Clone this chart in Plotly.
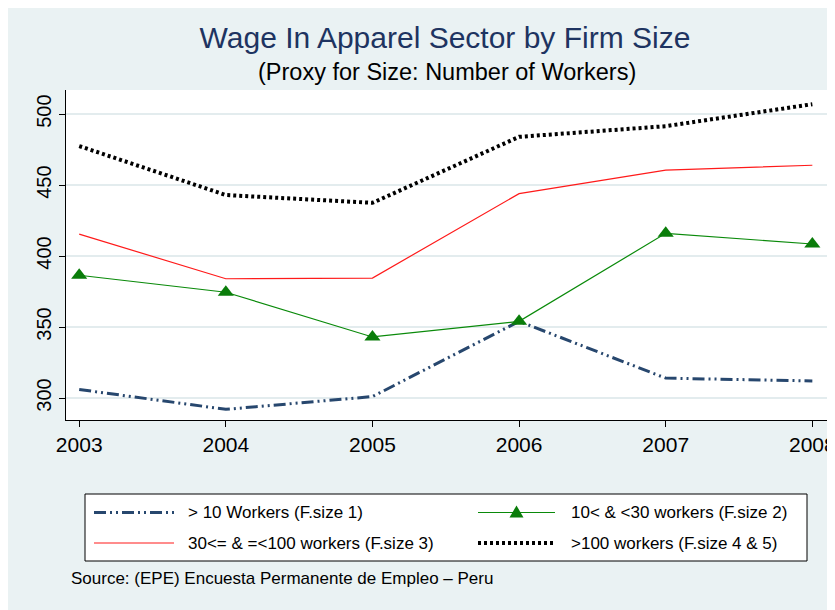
import plotly.graph_objects as go

years = [2003, 2004, 2005, 2006, 2007, 2008]
fsize1 = [306, 292, 301, 354, 314, 312]
fsize2 = [386.5, 374.5, 343, 354, 416, 408.5]
fsize3 = [415.5, 384, 384.5, 444, 460.5, 464]
fsize45 = [477.5, 443, 437.5, 484, 491.5, 507]
names = ["> 10 Workers (F.size 1)", "10< & <30 workers (F.size 2)",
         "30<= & =<100 workers (F.size 3)", ">100 workers (F.size 4 & 5)"]
y_ticks = [300, 350, 400, 450, 500]

font = "Liberation Sans, Arial, sans-serif"
W, H = 835, 610
OFF = 8  # page body margin: screen coords = figure coords + 8
L, R, T, B = 58, 16, 82, 198
PW, PH = W - L - R, H - T - B

def px(x):  # screen x -> paper
    return (x - OFF - L) / PW

def py(y):  # screen y -> paper
    return (H - B - (y - OFF)) / PH

styles = [
    dict(color="#27476E", width=3, dash="12px,4px,2px,4px,2px,4px"),
    dict(color="#0A8A0A", width=1.2),
    dict(color="#FF1A1A", width=1.2),
    dict(color="#000000", width=4, dash="3px,3px"),
]

fig = go.Figure()
fig.add_trace(go.Scatter(x=years, y=fsize1, mode="lines", name=names[0], line=styles[0]))
fig.add_trace(go.Scatter(x=years, y=fsize2, mode="lines+markers", name=names[1], line=styles[1],
                         marker=dict(symbol="triangle-up", size=14, color="#0A7D0A")))
fig.add_trace(go.Scatter(x=years, y=fsize3, mode="lines", name=names[2], line=styles[2]))
fig.add_trace(go.Scatter(x=years, y=fsize45, mode="lines", name=names[3], line=styles[3]))

# manual legend (long line samples, two columns) + source note
shapes = [
    dict(type="rect", xref="paper", yref="paper", x0=px(85), x1=px(807),
         y0=py(561), y1=py(494), fillcolor="white", line=dict(color="black", width=1)),
]
annotations = []
rows = [512.5, 543]
cols = [(94, 174, 186), (478, 555, 569)]
for i, nm in enumerate(names):
    r, c = i // 2, i % 2
    x0, x1, xt = cols[c]
    yy = rows[r]
    shapes.append(dict(type="line", xref="paper", yref="paper", x0=px(x0), x1=px(x1),
                       y0=py(yy), y1=py(yy), line=dict(styles[i])))
    if i == 1:
        cx = (x0 + x1) / 2
        shapes.append(dict(type="path", xref="paper", yref="paper",
                           path=f"M {px(cx-7)},{py(yy+5)} L {px(cx+7)},{py(yy+5)} L {px(cx)},{py(yy-7)} Z",
                           fillcolor="#0A7D0A", line=dict(width=0)))
    annotations.append(dict(text=nm, xref="paper", yref="paper", x=px(xt), y=py(yy),
                            xanchor="left", yanchor="middle", showarrow=False,
                            font=dict(size=17, color="black", family=font)))
annotations.append(dict(text="Source: (EPE) Encuesta Permanente de Empleo \u2013 Peru",
                        xref="paper", yref="paper", x=px(69), y=py(578),
                        xanchor="left", yanchor="middle", showarrow=False,
                        font=dict(size=17, color="black", family=font)))
annotations.append(dict(text="(Proxy for Size: Number of Workers)",
                        xref="paper", yref="paper", x=px(447), y=py(72),
                        xanchor="center", yanchor="middle", showarrow=False,
                        font=dict(size=23.5, color="black", family=font)))

fig.update_layout(
    width=W, height=H,
    margin=dict(l=L, r=R, t=T, b=B),
    paper_bgcolor="#EAF2F3", plot_bgcolor="white",
    font=dict(family=font, color="black"),
    title=dict(text="Wage In Apparel Sector by Firm Size",
               x=(445 - OFF) / W, xanchor="center", xref="container",
               y=1 - (37 - OFF) / H, yanchor="middle", yref="container",
               font=dict(size=30, color="#1E3461", family=font)),
    xaxis=dict(range=[2002.91, 2008.10], tickvals=years, ticktext=[str(y) for y in years],
               showgrid=False, showline=True, linecolor="black", linewidth=1,
               ticks="outside", ticklen=6, tickcolor="black", tickfont=dict(size=21),
               zeroline=False, automargin=False),
    yaxis=dict(range=[284.5, 517], tickvals=y_ticks, tickangle=-90,
               showgrid=True, gridcolor="#E3ECEE", gridwidth=2,
               showline=True, linecolor="black", linewidth=1,
               ticks="outside", ticklen=6, tickcolor="black", tickfont=dict(size=20),
               zeroline=False, automargin=False),
    showlegend=False,
    shapes=shapes,
    annotations=annotations,
)
fig.write_html("out.html")
